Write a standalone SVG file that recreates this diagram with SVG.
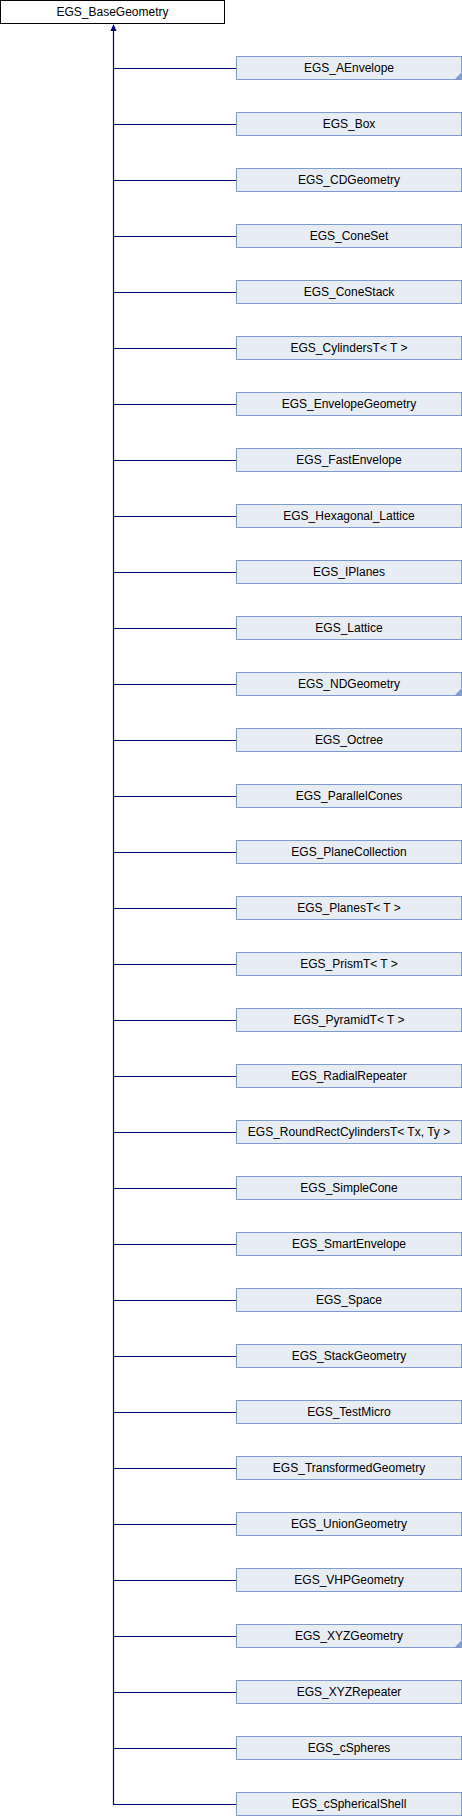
<svg xmlns="http://www.w3.org/2000/svg" width="462" height="1816" viewBox="0 0 462 1816">
<style>
.n rect{fill:#e8ecf5;stroke:#7f9ad0;stroke-width:1}
.r rect{fill:#ffffff;stroke:#000000;stroke-width:1}
text{font-family:"Liberation Sans",Arial,sans-serif;font-size:12px;fill:#000;text-anchor:middle}
.c{fill:#7f9ad0;stroke:none}
#edges line{stroke:#000080;stroke-width:1.2}
</style>
<rect width="462" height="1816" fill="#fff"/>
<g id="edges">
<line x1="113.5" y1="28" x2="113.5" y2="1804.5"/>
<polygon points="113.5,24 110.5,31 116.5,31" fill="#000080"/>
<line x1="113.5" y1="68.5" x2="236" y2="68.5"/>
<line x1="113.5" y1="124.5" x2="236" y2="124.5"/>
<line x1="113.5" y1="180.5" x2="236" y2="180.5"/>
<line x1="113.5" y1="236.5" x2="236" y2="236.5"/>
<line x1="113.5" y1="292.5" x2="236" y2="292.5"/>
<line x1="113.5" y1="348.5" x2="236" y2="348.5"/>
<line x1="113.5" y1="404.5" x2="236" y2="404.5"/>
<line x1="113.5" y1="460.5" x2="236" y2="460.5"/>
<line x1="113.5" y1="516.5" x2="236" y2="516.5"/>
<line x1="113.5" y1="572.5" x2="236" y2="572.5"/>
<line x1="113.5" y1="628.5" x2="236" y2="628.5"/>
<line x1="113.5" y1="684.5" x2="236" y2="684.5"/>
<line x1="113.5" y1="740.5" x2="236" y2="740.5"/>
<line x1="113.5" y1="796.5" x2="236" y2="796.5"/>
<line x1="113.5" y1="852.5" x2="236" y2="852.5"/>
<line x1="113.5" y1="908.5" x2="236" y2="908.5"/>
<line x1="113.5" y1="964.5" x2="236" y2="964.5"/>
<line x1="113.5" y1="1020.5" x2="236" y2="1020.5"/>
<line x1="113.5" y1="1076.5" x2="236" y2="1076.5"/>
<line x1="113.5" y1="1132.5" x2="236" y2="1132.5"/>
<line x1="113.5" y1="1188.5" x2="236" y2="1188.5"/>
<line x1="113.5" y1="1244.5" x2="236" y2="1244.5"/>
<line x1="113.5" y1="1300.5" x2="236" y2="1300.5"/>
<line x1="113.5" y1="1356.5" x2="236" y2="1356.5"/>
<line x1="113.5" y1="1412.5" x2="236" y2="1412.5"/>
<line x1="113.5" y1="1468.5" x2="236" y2="1468.5"/>
<line x1="113.5" y1="1524.5" x2="236" y2="1524.5"/>
<line x1="113.5" y1="1580.5" x2="236" y2="1580.5"/>
<line x1="113.5" y1="1636.5" x2="236" y2="1636.5"/>
<line x1="113.5" y1="1692.5" x2="236" y2="1692.5"/>
<line x1="113.5" y1="1748.5" x2="236" y2="1748.5"/>
<line x1="113" y1="1804.5" x2="236" y2="1804.5"/>
</g>
<g id="root" class="r"><rect x="0.5" y="0.5" width="224" height="23"/><text x="112.5" y="16">EGS_BaseGeometry</text></g>
<g id="n1" class="n"><rect x="236.5" y="56.5" width="225" height="23"/><text x="349" y="72">EGS_AEnvelope</text><polygon class="c" points="461,73 461,79 455,79"/></g>
<g id="n2" class="n"><rect x="236.5" y="112.5" width="225" height="23"/><text x="349" y="128">EGS_Box</text></g>
<g id="n3" class="n"><rect x="236.5" y="168.5" width="225" height="23"/><text x="349" y="184">EGS_CDGeometry</text></g>
<g id="n4" class="n"><rect x="236.5" y="224.5" width="225" height="23"/><text x="349" y="240">EGS_ConeSet</text></g>
<g id="n5" class="n"><rect x="236.5" y="280.5" width="225" height="23"/><text x="349" y="296">EGS_ConeStack</text></g>
<g id="n6" class="n"><rect x="236.5" y="336.5" width="225" height="23"/><text x="349" y="352">EGS_CylindersT&lt; T &gt;</text></g>
<g id="n7" class="n"><rect x="236.5" y="392.5" width="225" height="23"/><text x="349" y="408">EGS_EnvelopeGeometry</text></g>
<g id="n8" class="n"><rect x="236.5" y="448.5" width="225" height="23"/><text x="349" y="464">EGS_FastEnvelope</text></g>
<g id="n9" class="n"><rect x="236.5" y="504.5" width="225" height="23"/><text x="349" y="520">EGS_Hexagonal_Lattice</text></g>
<g id="n10" class="n"><rect x="236.5" y="560.5" width="225" height="23"/><text x="349" y="576">EGS_IPlanes</text></g>
<g id="n11" class="n"><rect x="236.5" y="616.5" width="225" height="23"/><text x="349" y="632">EGS_Lattice</text></g>
<g id="n12" class="n"><rect x="236.5" y="672.5" width="225" height="23"/><text x="349" y="688">EGS_NDGeometry</text><polygon class="c" points="461,689 461,695 455,695"/></g>
<g id="n13" class="n"><rect x="236.5" y="728.5" width="225" height="23"/><text x="349" y="744">EGS_Octree</text></g>
<g id="n14" class="n"><rect x="236.5" y="784.5" width="225" height="23"/><text x="349" y="800">EGS_ParallelCones</text></g>
<g id="n15" class="n"><rect x="236.5" y="840.5" width="225" height="23"/><text x="349" y="856">EGS_PlaneCollection</text></g>
<g id="n16" class="n"><rect x="236.5" y="896.5" width="225" height="23"/><text x="349" y="912">EGS_PlanesT&lt; T &gt;</text></g>
<g id="n17" class="n"><rect x="236.5" y="952.5" width="225" height="23"/><text x="349" y="968">EGS_PrismT&lt; T &gt;</text></g>
<g id="n18" class="n"><rect x="236.5" y="1008.5" width="225" height="23"/><text x="349" y="1024">EGS_PyramidT&lt; T &gt;</text></g>
<g id="n19" class="n"><rect x="236.5" y="1064.5" width="225" height="23"/><text x="349" y="1080">EGS_RadialRepeater</text></g>
<g id="n20" class="n"><rect x="236.5" y="1120.5" width="225" height="23"/><text x="349" y="1136">EGS_RoundRectCylindersT&lt; Tx, Ty &gt;</text></g>
<g id="n21" class="n"><rect x="236.5" y="1176.5" width="225" height="23"/><text x="349" y="1192">EGS_SimpleCone</text></g>
<g id="n22" class="n"><rect x="236.5" y="1232.5" width="225" height="23"/><text x="349" y="1248">EGS_SmartEnvelope</text></g>
<g id="n23" class="n"><rect x="236.5" y="1288.5" width="225" height="23"/><text x="349" y="1304">EGS_Space</text></g>
<g id="n24" class="n"><rect x="236.5" y="1344.5" width="225" height="23"/><text x="349" y="1360">EGS_StackGeometry</text></g>
<g id="n25" class="n"><rect x="236.5" y="1400.5" width="225" height="23"/><text x="349" y="1416">EGS_TestMicro</text></g>
<g id="n26" class="n"><rect x="236.5" y="1456.5" width="225" height="23"/><text x="349" y="1472">EGS_TransformedGeometry</text></g>
<g id="n27" class="n"><rect x="236.5" y="1512.5" width="225" height="23"/><text x="349" y="1528">EGS_UnionGeometry</text></g>
<g id="n28" class="n"><rect x="236.5" y="1568.5" width="225" height="23"/><text x="349" y="1584">EGS_VHPGeometry</text></g>
<g id="n29" class="n"><rect x="236.5" y="1624.5" width="225" height="23"/><text x="349" y="1640">EGS_XYZGeometry</text><polygon class="c" points="461,1641 461,1647 455,1647"/></g>
<g id="n30" class="n"><rect x="236.5" y="1680.5" width="225" height="23"/><text x="349" y="1696">EGS_XYZRepeater</text></g>
<g id="n31" class="n"><rect x="236.5" y="1736.5" width="225" height="23"/><text x="349" y="1752">EGS_cSpheres</text></g>
<g id="n32" class="n"><rect x="236.5" y="1792.5" width="225" height="23"/><text x="349" y="1808">EGS_cSphericalShell</text></g>
</svg>
